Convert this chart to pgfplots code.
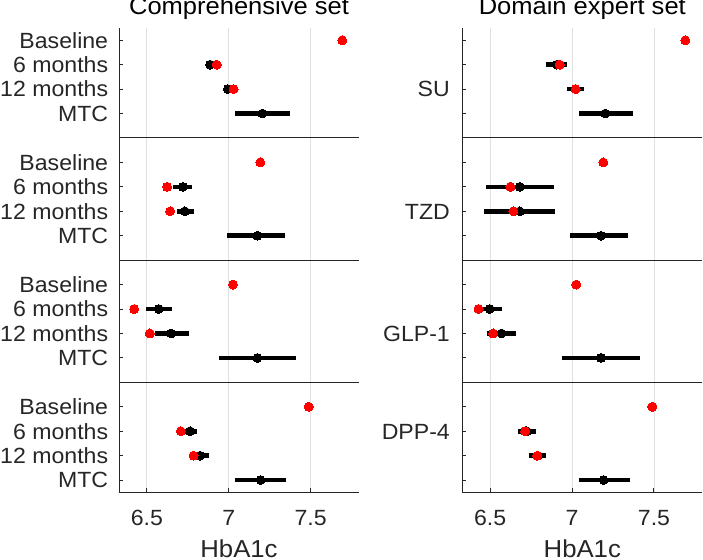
\documentclass[border=0pt]{standalone}
\usepackage{fontspec}
\setmainfont{Liberation Sans}[FakeStretch=1.05]
\usepackage{pgfplots}
\pgfplotsset{compat=1.18}
\usepackage{pgfplotstable}
\definecolor{axgray}{RGB}{38,38,38}
\definecolor{gridgray}{RGB}{224,224,224}
\definecolor{dotred}{RGB}{255,0,0}

% left (Comprehensive set): model estimate with interval
\pgfplotstableread{
y x lo hi
2 6.886 6.872 6.905
3 6.994 6.978 7.012
4 7.205 7.037 7.376
7 6.720 6.660 6.776
8 6.732 6.681 6.790
9 7.175 6.988 7.343
12 6.573 6.492 6.654
13 6.648 6.549 6.756
14 7.175 6.939 7.413
17 6.764 6.732 6.809
18 6.825 6.795 6.878
19 7.195 7.038 7.352
}\leftblack
\pgfplotstableread{
y x
1 7.693
2 6.927
3 7.029
6 7.193
7 6.624
8 6.642
11 7.026
12 6.423
13 6.518
16 7.488
17 6.707
18 6.785
}\leftred
% right (Domain expert set)
\pgfplotstableread{
y x lo hi
2 6.907 6.841 6.968
3 7.020 6.968 7.073
4 7.203 7.040 7.372
7 6.681 6.476 6.890
8 6.681 6.462 6.898
9 7.177 6.990 7.343
12 6.498 6.440 6.575
13 6.569 6.480 6.660
14 7.177 6.941 7.413
17 6.724 6.673 6.779
18 6.790 6.738 6.843
19 7.193 7.040 7.355
}\rightblack
\pgfplotstableread{
y x
1 7.691
2 6.925
3 7.022
6 7.191
7 6.624
8 6.642
11 7.026
12 6.429
13 6.518
16 7.490
17 6.713
18 6.788
}\rightred

\pgfplotsset{panel/.style={
  scale only axis, width=240bp, height=464.3bp,
  xmin=6.33, xmax=7.795, ymin=0.5, ymax=19.5, y dir=reverse,
  axis x line*=bottom, axis y line*=left,
  axis line style={axgray, line width=1bp},
  xtick={6.5,7,7.5}, xticklabels={6.5,7,7.5},
  ytick={1,2,3,4,6,7,8,9,11,12,13,14,16,17,18,19},
  tick align=inside, major tick length=4bp,
  tick style={axgray, line width=1bp},
  xmajorgrids, grid style={gridgray, line width=0.9bp},
  ticklabel style={font=\fontsize{22bp}{26bp}\selectfont, text=axgray, inner sep=0pt},
  xticklabel style={anchor=base, yshift=-32.7bp},
  xlabel={HbA1c},
  xlabel style={font=\fontsize{24.5bp}{29bp}\selectfont, text=axgray, at={(axis description cs:0.5,0)}, anchor=base, yshift=-65.3bp, inner sep=0pt},
  title style={font=\fontsize{24.3bp}{29bp}\selectfont, text=black, at={(axis description cs:0.5,1)}, anchor=base, yshift=8bp, inner sep=0pt},
  /pgf/number format/assume math mode=true,
}}

\begin{document}
\begin{tikzpicture}
\useasboundingbox (0,0) rectangle (703bp,560bp);

\begin{axis}[panel, at={(119bp,67.7bp)}, anchor=south west,
  title={Comprehensive set},
  yticklabels={Baseline,6 months,12 months,MTC,Baseline,6 months,12 months,MTC,Baseline,6 months,12 months,MTC,Baseline,6 months,12 months,MTC},
  yticklabel style={anchor=base east, xshift=-10.7bp, yshift=-7.9bp}]
\draw[axgray, line width=1bp] (axis cs:6.33,5) -- (axis cs:7.795,5);
\draw[axgray, line width=1bp] (axis cs:6.33,10) -- (axis cs:7.795,10);
\draw[axgray, line width=1bp] (axis cs:6.33,15) -- (axis cs:7.795,15);
\addplot[only marks, mark=*, mark size=4.4bp, mark options={fill=black, draw=black, line width=0pt},
  error bars/.cd, x dir=both, x explicit, error mark=none,
  error bar style={line width=4.6bp, black}]
  table[x=x, y=y, x error plus expr=\thisrow{hi}-\thisrow{x}, x error minus expr=\thisrow{x}-\thisrow{lo}] {\leftblack};
\addplot[only marks, mark=*, mark size=4.5bp, mark options={fill=dotred, draw=dotred, line width=0pt}]
  table[x=x, y=y] {\leftred};
\end{axis}

\begin{axis}[panel, at={(462.3bp,67.7bp)}, anchor=south west,
  title={Domain expert set},
  yticklabels={{},{},SU,{},{},{},TZD,{},{},{},GLP-1,{},{},DPP-4,{},{}},
  yticklabel style={anchor=base east, xshift=-12.3bp, yshift=-7.9bp}]
\draw[axgray, line width=1bp] (axis cs:6.33,5) -- (axis cs:7.795,5);
\draw[axgray, line width=1bp] (axis cs:6.33,10) -- (axis cs:7.795,10);
\draw[axgray, line width=1bp] (axis cs:6.33,15) -- (axis cs:7.795,15);
\addplot[only marks, mark=*, mark size=4.4bp, mark options={fill=black, draw=black, line width=0pt},
  error bars/.cd, x dir=both, x explicit, error mark=none,
  error bar style={line width=4.6bp, black}]
  table[x=x, y=y, x error plus expr=\thisrow{hi}-\thisrow{x}, x error minus expr=\thisrow{x}-\thisrow{lo}] {\rightblack};
\addplot[only marks, mark=*, mark size=4.5bp, mark options={fill=dotred, draw=dotred, line width=0pt}]
  table[x=x, y=y] {\rightred};
\end{axis}
\end{tikzpicture}
\end{document}
